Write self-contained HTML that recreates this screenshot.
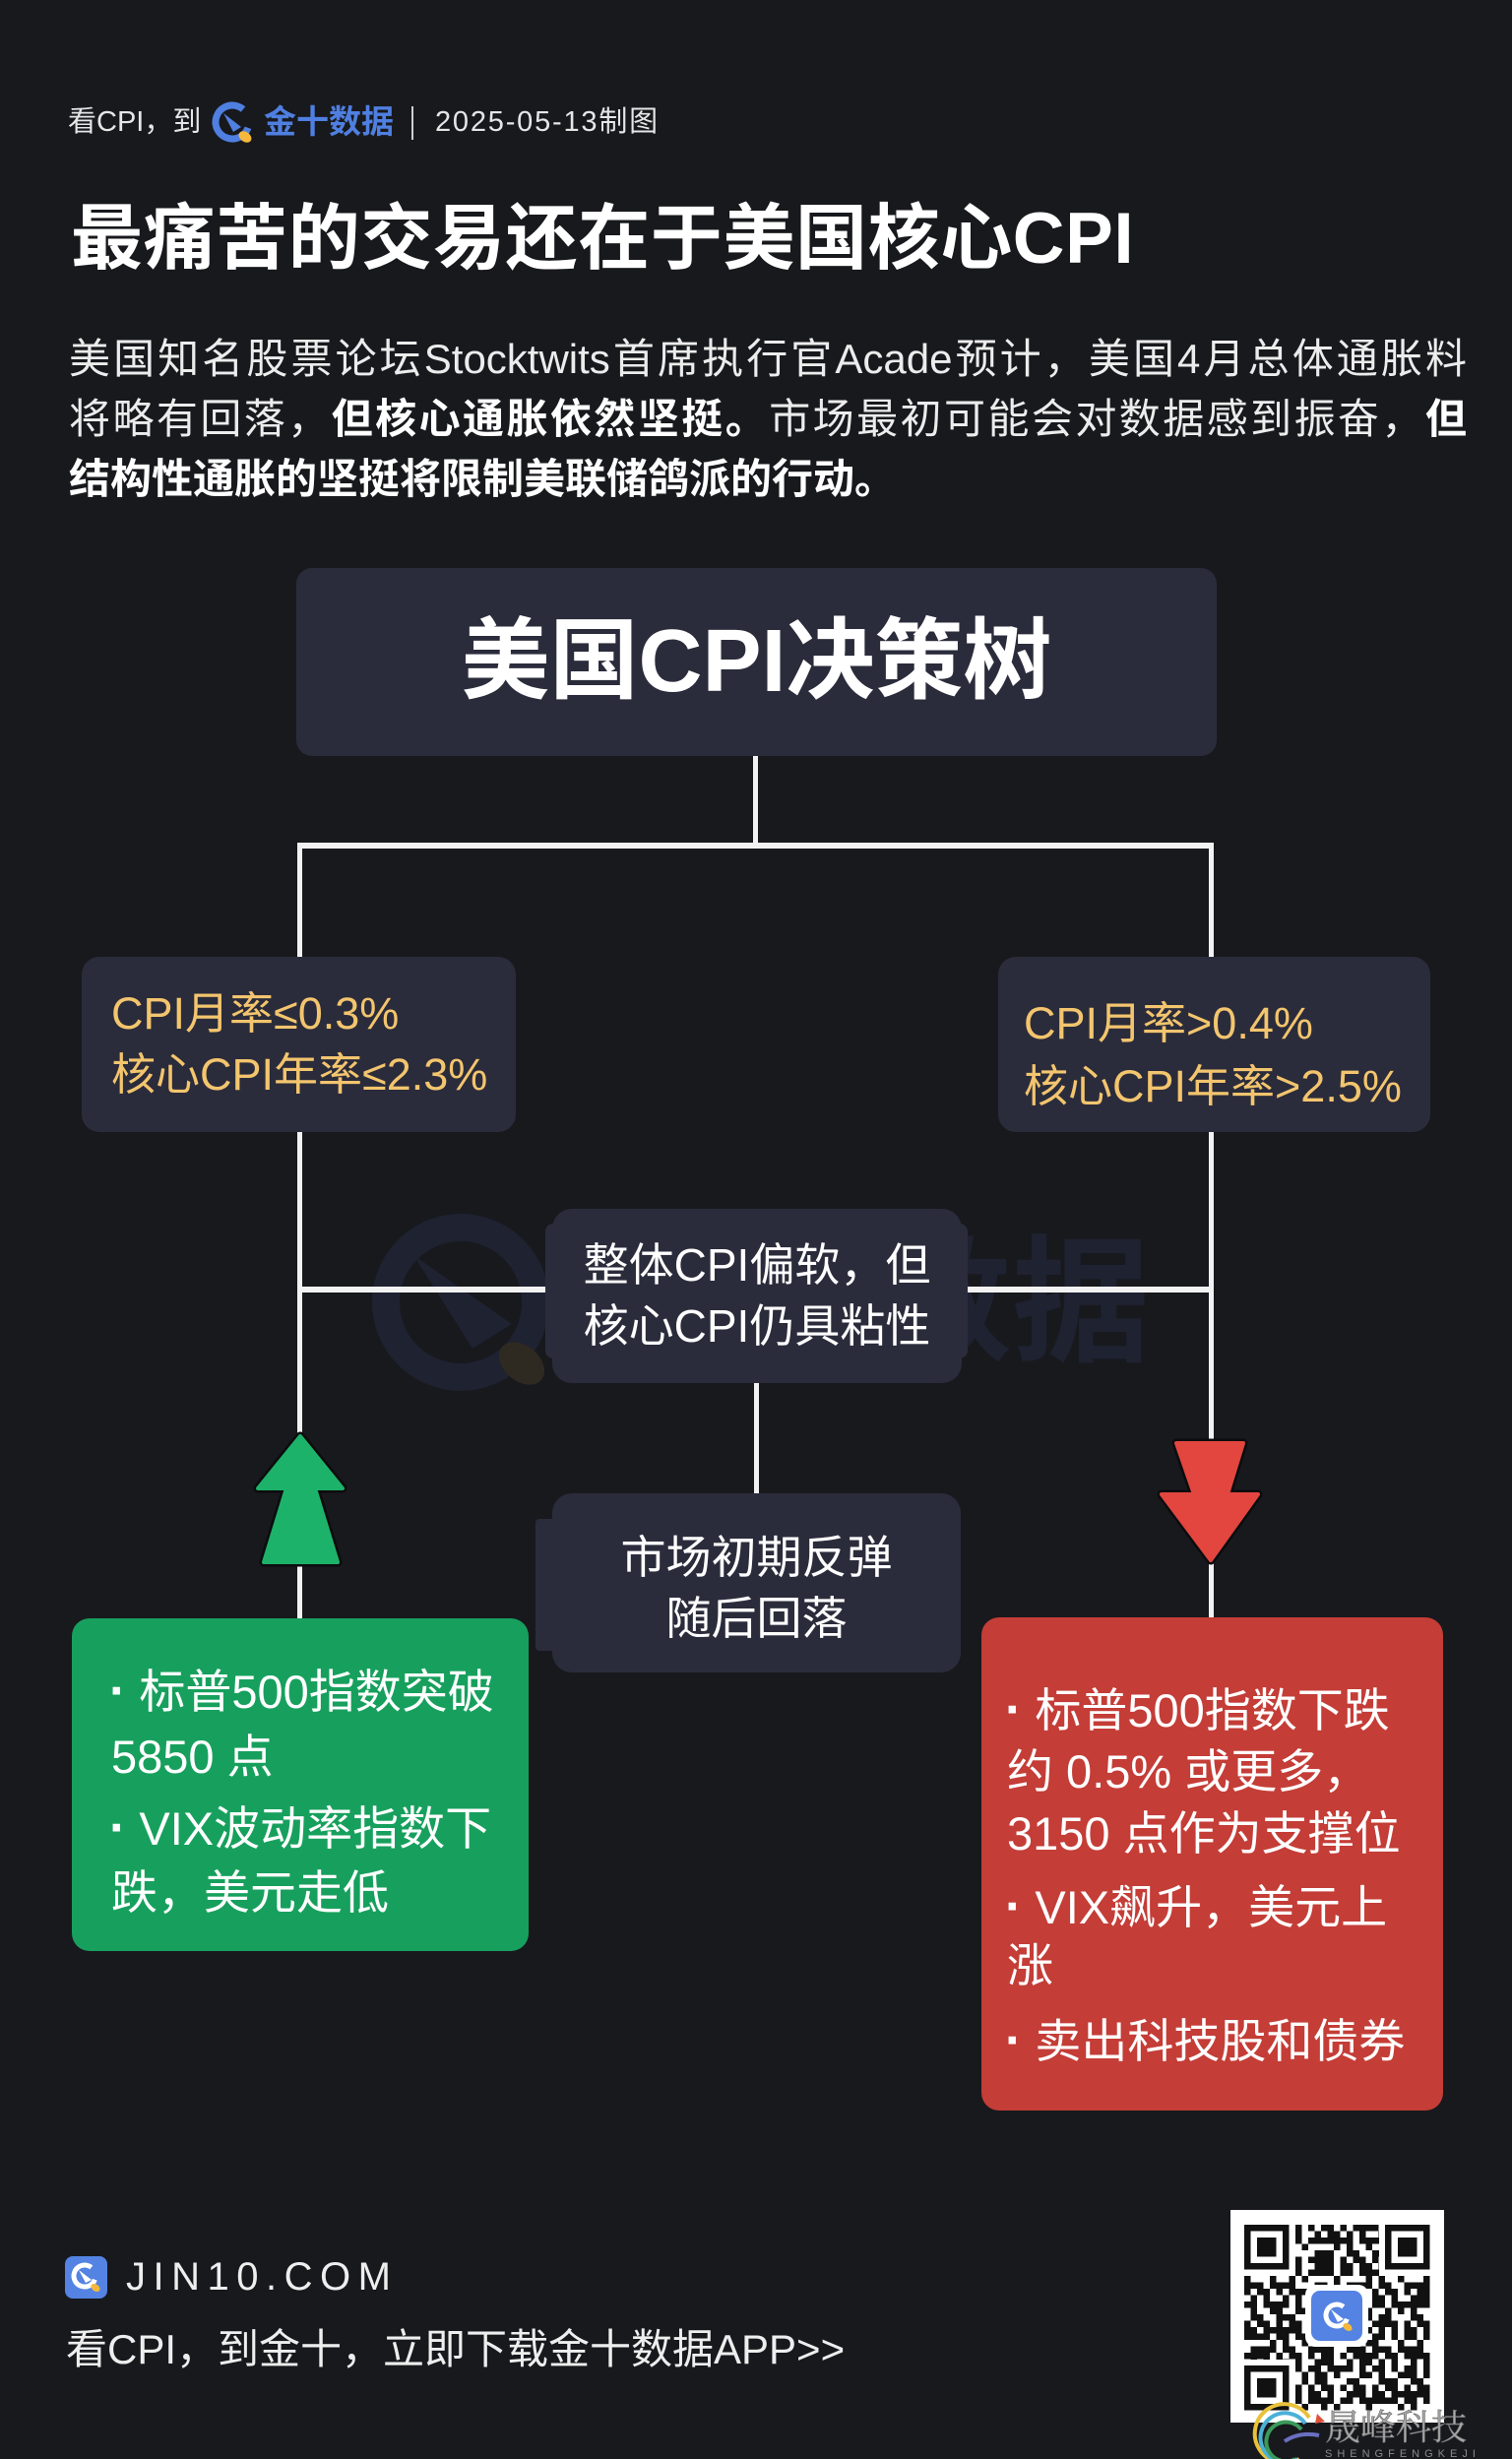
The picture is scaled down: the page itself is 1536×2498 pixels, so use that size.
<!DOCTYPE html>
<html lang="zh-CN">
<head>
<meta charset="utf-8">
<style>
html,body{margin:0;padding:0;}
body{width:1536px;height:2498px;background:#18191d;position:relative;overflow:hidden;font-family:"Liberation Sans","Noto Sans CJK SC",sans-serif;}
.t{position:absolute;white-space:nowrap;font-family:"Liberation Sans","Noto Sans CJK SC",sans-serif;}
svg.bg{position:absolute;left:0;top:0;}
.para{position:absolute;left:70px;top:334px;width:1420px;font-size:42px;line-height:61px;color:#ececec;}
.para div{text-align:justify;text-align-last:justify;}
.para div.last{text-align:left;text-align-last:left;}
.para b{font-weight:bold;color:#fff;}
.gold{color:#f3c56e;font-size:45px;}
.wt{color:#fff;font-size:46px;}
.bx{color:#fff;font-size:47px;line-height:60px;}
.dot{font-weight:bold;font-size:52px;}
</style>
</head>
<body>
<svg class="bg" width="1536" height="2498" viewBox="0 0 1536 2498" xmlns="http://www.w3.org/2000/svg">
  <defs>
    <pattern id="pa" x="1264" y="2260" width="32.5" height="32.5" patternUnits="userSpaceOnUse">
      <rect x="0" y="0" width="6.5" height="6.5" fill="#111"/>
      <rect x="13" y="0" width="13" height="6.5" fill="#111"/>
      <rect x="6.5" y="6.5" width="6.5" height="6.5" fill="#111"/>
      <rect x="19.5" y="6.5" width="6.5" height="13" fill="#111"/>
      <rect x="0" y="13" width="13" height="6.5" fill="#111"/>
      <rect x="26" y="19.5" width="6.5" height="6.5" fill="#111"/>
      <rect x="6.5" y="26" width="13" height="6.5" fill="#111"/>
    </pattern>
    <pattern id="pb" x="1264" y="2260" width="45.5" height="45.5" patternUnits="userSpaceOnUse">
      <rect x="32.5" y="0" width="6.5" height="6.5" fill="#111"/>
      <rect x="0" y="6.5" width="6.5" height="13" fill="#111"/>
      <rect x="26" y="13" width="13" height="6.5" fill="#111"/>
      <rect x="13" y="19.5" width="6.5" height="6.5" fill="#111"/>
      <rect x="39" y="26" width="6.5" height="13" fill="#111"/>
      <rect x="19.5" y="32.5" width="13" height="6.5" fill="#111"/>
      <rect x="6.5" y="39" width="6.5" height="6.5" fill="#111"/>
      <rect x="32.5" y="39" width="6.5" height="6.5" fill="#111"/>
    </pattern>
  </defs>

  <!-- watermark -->
  <g>
    <circle cx="468" cy="1323" r="76" fill="none" stroke="#1e2231" stroke-width="28"/>
    <polygon points="420,1275 520,1345 480,1370" fill="#1e2231"/>
    <ellipse cx="530" cy="1385" rx="26" ry="18" transform="rotate(40 530 1385)" fill="#2e2a22"/>
    <text x="608" y="1372" font-family="Liberation Sans, Noto Sans CJK SC, sans-serif" font-size="140" font-weight="bold" fill="#1e2231">金十数据</text>
  </g>

  <!-- connectors -->
  <rect x="765" y="766" width="5" height="95" fill="#f2f2f2"/>
  <rect x="302" y="856" width="931" height="6" fill="#f2f2f2"/>
  <rect x="302" y="856" width="5" height="118" fill="#f2f2f2"/>
  <rect x="1228" y="856" width="5" height="118" fill="#f2f2f2"/>
  <rect x="302" y="1148" width="5" height="498" fill="#f2f2f2"/>
  <rect x="1228" y="1148" width="5" height="498" fill="#f2f2f2"/>
  <rect x="302" y="1307" width="931" height="6" fill="#f2f2f2"/>
  <rect x="766" y="1400" width="5" height="120" fill="#f2f2f2"/>

  <!-- boxes -->
  <rect x="301" y="577" width="935" height="191" rx="16" fill="#2b2c3b"/>
  <rect x="83" y="972" width="441" height="178" rx="18" fill="#2b2c3b"/>
  <rect x="1014" y="972" width="439" height="178" rx="18" fill="#2b2c3b"/>
  <rect x="554" y="1243" width="429" height="137" rx="8" fill="#2b2c3b"/>
  <rect x="561" y="1228" width="416" height="177" rx="20" fill="#2b2c3b"/>
  <rect x="544" y="1543" width="40" height="134" rx="4" fill="#2b2c3b"/>
  <rect x="561" y="1517" width="415" height="182" rx="20" fill="#2b2c3b"/>
  <rect x="73" y="1644" width="464" height="338" rx="18" fill="#17a05d"/>
  <rect x="997" y="1643" width="469" height="501" rx="18" fill="#c43d37"/>

  <!-- green up arrow -->
  <polygon points="305,1459 348,1512 320,1512 343,1587 268,1587 291,1512 262,1512" fill="#0c0c0e" stroke="#0c0c0e" stroke-width="9" stroke-linejoin="round"/>
  <polygon points="305,1459 348,1512 320,1512 343,1587 268,1587 291,1512 262,1512" fill="#1db26a" stroke="#1db26a" stroke-width="4" stroke-linejoin="round"/>

  <!-- red down arrow -->
  <polygon points="1195,1466 1263,1466 1247,1518 1278,1518 1230,1585 1180,1518 1213,1518" fill="#0c0c0e" stroke="#0c0c0e" stroke-width="9" stroke-linejoin="round"/>
  <polygon points="1195,1466 1263,1466 1247,1518 1278,1518 1230,1585 1180,1518 1213,1518" fill="#e2463f" stroke="#e2463f" stroke-width="4" stroke-linejoin="round"/>

  <!-- header logo -->
  <g transform="translate(214,102)">
    <circle cx="22" cy="22" r="17" fill="none" stroke="#4f7fe0" stroke-width="7" stroke-dasharray="86 21" transform="rotate(20 22 22)"/>
    <polygon points="13,13 31,27 23,32" fill="#4f7fe0"/>
    <ellipse cx="35" cy="37" rx="7" ry="5" transform="rotate(35 35 37)" fill="#f5b83c"/>
  </g>
  <rect x="418" y="108" width="2" height="34" fill="#cfcfcf"/>

  <!-- footer logo -->
  <rect x="66" y="2292" width="43" height="43" rx="8" fill="#5483e3"/>
  <g transform="translate(66,2292)">
    <circle cx="20" cy="20" r="11" fill="none" stroke="#fff" stroke-width="5" stroke-dasharray="55 14" transform="rotate(20 20 20)"/>
    <polygon points="14,14 27,24 21,27" fill="#fff"/>
    <ellipse cx="31" cy="32" rx="5" ry="3.5" transform="rotate(35 31 32)" fill="#f5b83c"/>
  </g>

  <!-- QR code -->
  <rect x="1250" y="2245" width="217" height="216" fill="#ffffff"/>
  <rect x="1264" y="2260" width="188.5" height="188.5" fill="url(#pa)"/>
  <rect x="1264" y="2260" width="188.5" height="188.5" fill="url(#pb)"/>
  <g fill="#fff">
    <rect x="1262" y="2258" width="54" height="54"/>
    <rect x="1401" y="2258" width="54" height="54"/>
    <rect x="1262" y="2397" width="54" height="54"/>
  </g>
  <g>
    <rect x="1264" y="2260" width="45.5" height="45.5" fill="#111"/>
    <rect x="1270.5" y="2266.5" width="32.5" height="32.5" fill="#fff"/>
    <rect x="1277" y="2273" width="19.5" height="19.5" fill="#111"/>
    <rect x="1407" y="2260" width="45.5" height="45.5" fill="#111"/>
    <rect x="1413.5" y="2266.5" width="32.5" height="32.5" fill="#fff"/>
    <rect x="1420" y="2273" width="19.5" height="19.5" fill="#111"/>
    <rect x="1264" y="2403" width="45.5" height="45.5" fill="#111"/>
    <rect x="1270.5" y="2409.5" width="32.5" height="32.5" fill="#fff"/>
    <rect x="1277" y="2416" width="19.5" height="19.5" fill="#111"/>
  </g>
  <rect x="1326" y="2321" width="64" height="63" rx="10" fill="#fff"/>
  <rect x="1332" y="2327" width="52" height="51" rx="9" fill="#5483e3"/>
  <g transform="translate(1338,2332)">
    <circle cx="20" cy="20" r="11" fill="none" stroke="#fff" stroke-width="5" stroke-dasharray="55 14" transform="rotate(20 20 20)"/>
    <polygon points="14,14 27,24 21,27" fill="#fff"/>
    <ellipse cx="31" cy="32" rx="5" ry="3.5" transform="rotate(35 31 32)" fill="#f5b83c"/>
  </g>

  <!-- bottom-right watermark swirl -->
  <g fill="none" stroke-width="4">
    <path d="M1330,2456 A30,30 0 1 0 1320,2498" stroke="#e9c13a"/>
    <path d="M1326,2462 A25,25 0 1 0 1318,2498" stroke="#4ab0d8"/>
    <path d="M1322,2468 A20,20 0 1 0 1316,2498" stroke="#3b9a5a"/>
    <path d="M1305,2480 Q1320,2470 1340,2474" stroke="#6a6fc0"/>
  </g>
  <polygon points="1338,2452 1346,2460 1336,2462" fill="#e0503a"/>
  <text x="1346" y="2478" font-family="Noto Serif CJK SC, serif" font-size="36" fill="#a8a8a8" stroke="#666" stroke-width="0.6">晟峰科技</text>
  <text x="1346" y="2496" font-family="Liberation Sans, sans-serif" font-size="11" letter-spacing="5" fill="#8a8a8a">SHENGFENGKEJI</text>
</svg>

<!-- header -->
<div class="t" style="left:69px;top:104px;line-height:40px;font-size:29px;color:#e6e6e6;">看CPI，到</div>
<div class="t" style="left:268px;top:103px;line-height:42px;font-size:33px;font-weight:bold;color:#4f7fe0;">金十数据</div>
<div class="t" style="left:442px;top:104px;line-height:40px;font-size:29px;color:#e6e6e6;letter-spacing:1.8px;">2025-05-13制图</div>

<!-- title -->
<div class="t" style="left:72px;top:203px;line-height:80px;font-size:73px;font-weight:bold;color:#ffffff;letter-spacing:0.6px;">最痛苦的交易还在于美国核心CPI</div>

<!-- paragraph -->
<div class="para">
  <div>美国知名股票论坛Stocktwits首席执行官Acade预计，美国4月总体通胀料</div>
  <div>将略有回落，<b>但核心通胀依然坚挺。</b>市场最初可能会对数据感到振奋，<b>但</b></div>
  <div class="last"><b>结构性通胀的坚挺将限制美联储鸽派的行动。</b></div>
</div>

<!-- root -->
<div class="t" style="left:301px;width:935px;text-align:center;top:617px;line-height:110px;font-size:90px;font-weight:bold;color:#ffffff;">美国CPI决策树</div>

<!-- condition boxes -->
<div class="t gold" style="left:113px;top:999px;line-height:62px;">CPI月率≤0.3%<br>核心CPI年率≤2.3%</div>
<div class="t gold" style="left:1040px;top:1008px;line-height:64px;">CPI月率&gt;0.4%<br>核心CPI年率&gt;2.5%</div>

<!-- middle boxes -->
<div class="t wt" style="left:561px;width:416px;text-align:center;top:1254px;line-height:62px;">整体CPI偏软，但<br>核心CPI仍具粘性</div>
<div class="t wt" style="left:561px;width:415px;text-align:center;top:1551px;line-height:62px;">市场初期反弹<br>随后回落</div>

<!-- green box -->
<div class="t bx" style="left:111px;top:1688px;"><span class="dot">·</span> 标普500指数突破</div>
<div class="t bx" style="left:113px;top:1755px;">5850 点</div>
<div class="t bx" style="left:111px;top:1827px;"><span class="dot">·</span> VIX波动率指数下</div>
<div class="t bx" style="left:113px;top:1893px;">跌，美元走低</div>

<!-- red box -->
<div class="t bx" style="left:1021px;top:1707px;"><span class="dot">·</span> 标普500指数下跌</div>
<div class="t bx" style="left:1023px;top:1770px;">约 0.5% 或更多，</div>
<div class="t bx" style="left:1023px;top:1833px;">3150 点作为支撑位</div>
<div class="t bx" style="left:1021px;top:1907px;"><span class="dot">·</span> VIX飙升，美元上</div>
<div class="t bx" style="left:1023px;top:1967px;">涨</div>
<div class="t bx" style="left:1021px;top:2043px;"><span class="dot">·</span> 卖出科技股和债券</div>

<!-- footer -->
<div class="t" style="left:128px;top:2290px;line-height:46px;font-size:40px;color:#eeeeee;letter-spacing:7.5px;">JIN10.COM</div>
<div class="t" style="left:67px;top:2362px;line-height:50px;font-size:42px;color:#eeeeee;">看CPI，到金十，立即下载金十数据APP&gt;&gt;</div>
</body>
</html>
